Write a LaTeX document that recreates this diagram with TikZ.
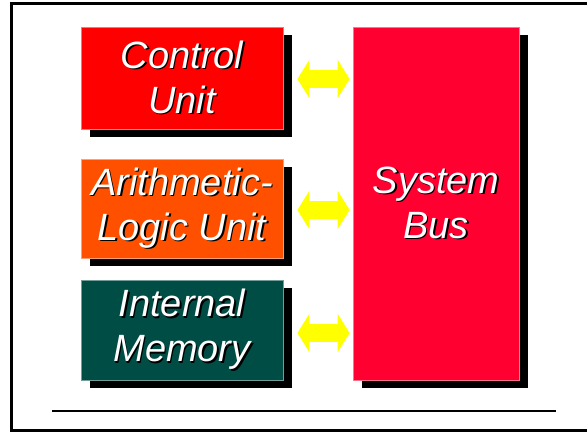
\documentclass[tikz,border=0pt]{standalone}
\usepackage{fontspec}
\setmainfont{Liberation Sans}
\usetikzlibrary{arrows.meta,calc,shadows}

\definecolor{cured}{HTML}{FF0000}
\definecolor{aluorange}{HTML}{FF5000}
\definecolor{memteal}{HTML}{004D45}
\definecolor{busred}{HTML}{FF0030}
\definecolor{linkyellow}{HTML}{FFFF00}

% white lettering with a small black drop shadow
\newcommand\shtxt[1]{\makebox[0pt][l]{\hspace{1.6pt}\raisebox{-1.6pt}{\color{black}#1}}#1}

\begin{document}
\begin{tikzpicture}[x=1pt,y=-1pt,
  unitbox/.style={draw=#1!55!white, line width=0.8pt, fill=#1,
    text=white, align=center, inner sep=0pt,
    font=\fontsize{38}{45}\selectfont\itshape,
    drop shadow={shadow xshift=9pt, shadow yshift=-8pt, opacity=1, fill=black}},
  busarrow/.style={draw=linkyellow, line width=18pt,
    {Triangle[width=38pt,length=12pt]}-{Triangle[width=38pt,length=12pt]}},
  frame/.style={line width=3pt},
  rule/.style={line width=1.5pt}]

\useasboundingbox (0,0) rectangle (587,432);

% outer frame (open at the right edge)
\draw[frame] (590,3) -- (11,3) -- (11,430.5) -- (590,430.5);

% functional units
\node[unitbox=cured, minimum width=202pt, minimum height=102pt] (cu) at (182,78)
  {\shtxt{Control}\\\shtxt{Unit}};
\node[unitbox=aluorange, minimum width=202pt, minimum height=99pt] (alu) at (182,208.5)
  {\shtxt{Arithmetic-}\\\shtxt{Logic Unit}};
\node[unitbox=memteal, minimum width=202pt, minimum height=100pt] (mem) at (182,330)
  {\shtxt{Internal}\\\shtxt{Memory}};
\node[unitbox=busred, minimum width=166pt, minimum height=353pt] (bus) at (436,203.5)
  {\shtxt{System}\\\shtxt{Bus}};

% links between each unit and the bus
\draw[busarrow] ($(cu.east)+(14,1)$) -- ($(bus.west |- cu.east)+(-3,1)$);
\draw[busarrow] ($(alu.east)+(14,1.5)$) -- ($(bus.west |- alu.east)+(-3,1.5)$);
\draw[busarrow] ($(mem.east)+(14,3)$) -- ($(bus.west |- mem.east)+(-3,3)$);

% rule under the diagram
\coordinate (ruleL) at (52,411);
\coordinate (ruleR) at (556,411);
\draw[rule] (ruleL) -- (ruleR);
\end{tikzpicture}
\end{document}
